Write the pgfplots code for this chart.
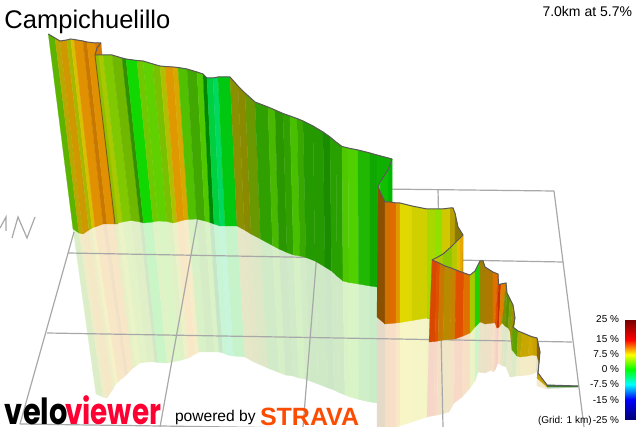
\documentclass[border=0pt]{standalone}
\usepackage{fontspec}
\setmainfont{Liberation Sans}
\newfontfamily\logofont{Poppins}
\usepackage{pgfplots}
\usepackage{pgfplotstable}
\pgfplotsset{compat=1.18}
\definecolor{gridc}{HTML}{A8A8A8}
\definecolor{edgec}{HTML}{5A5A5A}
% columns: wall top (xt,yt), wall foot (xb,yb), reflection foot (xr,yr), colour of the stripe to the right
\pgfplotstableread{
xt yt xb yb xr yr c
48.3 34 73 229 96 394 5CB400
55 38 79 233 103 397 B8A800
60 41 83 234 107 398 D09800
66.7 40 89 230 113 389 A8B800
70.7 39 92 228 115 385 D8C000
74 39.5 95 227 118 382 E09000
83 41 103 224 125 376 C87800
87 42 107 224 128 373 E09000
95 43 114 224 133 368 D87800
101 43 118 224 136 366 D87800
}\TabA
\pgfplotstableread{
xt yt xb yb xr yr c
95 55 115 224 133 368 90C000
98.5 55 118 223 136 366 A8C800
103 55 122.5 222 140 363 80C800
112 55 131 220.5 147.5 362 70B800
122 58 140 222 155 362 309000
126 59 143.5 223 158 362.5 10D800
137 60.5 153 222 167 363 70C800
143 61 158 221 172 362 60D000
153 64 167 221.5 180 360.5 78C000
160 66 173 223 185 359 B0C000
165 66.5 177 222 188.5 358 E09800
173 67 184 220 195 354 D8A800
178 67.5 188.5 219.5 199 352 50C000
187 69 196.5 219 206.5 352 40A800
197 72 205 221 214.5 352 50C800
203 74 210 222.5 219 352 008800
207 78 214 224 223 353 00D040
213 78 220 226 229 355.5 00D860
218 77 225 226 233.5 356 00C810
230 77 237 226 245 357 8A9000
238 86 244.5 230 252 361 8A8A00
245 93 251 234 258.5 364 6A9800
255 102 260.5 239 267.5 368 30A000
268 107 272.5 245.5 279 372.5 48B800
275 110 279 249 285.5 375 2A9600
283 113.5 287 252.5 293 376 30A000
290 116 293.5 255 299 378 48C000
297 118.5 300 256 305 379 38A800
303 121 306 257.5 310 381 259A00
313 126 315 261 318 384 259A00
323 132 325 267 328 388 1A8C00
330 137 331.5 271 334 390 28A000
336 142 337 276 339 392.5 28A000
342 146.5 343 281 345 395 50C800
348 148 349 282.5 350 397 50D000
358 150 358.5 284 359 399.5 20B800
370 153 370 286 370 402 10A800
377 155 377 287 377 403 10B000
392 159 392 289 392 405 10B000
}\TabB
\pgfplotstableread{
xt yt xb yb xr yr c
392 159 392 250 392 250 00B800
388 170 388 250 388 250 10C000
380 182 380 250 380 250 30E000
378 187 378 250 378 250 30E000
}\TabH
\pgfplotstableread{
xt yt xb yb xr yr c
378 187 377 317 377 427 8A5000
385 202 385 324 385 427 D07000
390 202 390 323.5 390 427 E06C00
396 203 396 323 396 427 E09800
400 203 400 322.5 400 426 E0D800
412 206 412 320.5 412 422 D0D000
427 209 427 318 427 417 A8D800
435 209 435 318 435 318 90E000
442 209 442 318 442 318 D0C800
450 208 450 318 450 318 B8A000
453 208 453 318 453 318 B8A000
455 213 455 318 455 318 8A7A00
458 227 458 318 458 318 8A7A00
463 235 463 318 463 318 8A7A00
}\TabC
\pgfplotstableread{
xt yt xb yb xr yr c
432 260 432 300 432 300 E0B800
437 257.5 437 300 437 300 B0C800
443 254 443 300 443 300 90C800
452 246 452 300 452 300 B8C800
457 241 457 300 457 300 E0C000
460 238 460 300 460 300 E8A800
463 235 462 300 462 300 E8A800
}\TabE
\pgfplotstableread{
xt yt xb yb xr yr c
432 260 429 342 427 417 D84800
437 262 435 341.5 434 415.5 E05000
440 263.5 438 341 437 415 C87800
445 266 443 340 442 414 B88A00
451 268 450 339.5 449 412 C88000
456 270 455 339 454 403 E05000
464 273 463 336 462 397 E07000
470 275 470 333 470 388 A8C800
475 271 475 327 475 381 20D000
480 261 480 322 478 372 A08000
483 261 483 323 481 372.5 A08000
485 267 485 324 485 373 B07800
493 272 493 323 492 370 E07000
498 274 495 323 493 372 E05000
498.5 284.5 497 328 495 370 C83000
501 284 499 327 498 363 E08000
506 283 502 323 501 365 7A9000
507 293 505 326 503 366 609000
510 299 508 328 506 367 80A000
513 305 510 331 508 372 A09000
515 318 511.5 345 510 377 6AA000
513 327 512 350 511 377 60A000
518 331 517 356 516 376 B0A800
523 333 520 357 520 376 C8A800
530 336 528 356 528 375 D0A800
533 337 533 355 533 374 C8A000
537 338 537 356 536 372 8A6000
540 352 539 363 538 372 6A7A00
538 373 537 378 537 386 C8A000
547 385 547 387 547 389 3A7A30
578 386 578 387 578 387 3A7A30
}\TabD
\newcount\stripeno
\newcommand\getcell[3]{\pgfplotstablegetelem{#1}{#2}\of{#3}}
\newcommand\faces[2]{% table, 0 = wall, 1 = reflection
  \pgfplotstablegetrowsof{#1}\pgfmathtruncatemacro\lastrow{\pgfplotsretval-2}%
  \pgfplotsforeachungrouped \i in {0,...,\lastrow}{%
    \pgfmathtruncatemacro\j{\i+1}%
    \global\advance\stripeno by 1
    \getcell{\i}{c}{#1}%
    \edef\tmp{\noexpand\xglobal\noexpand\definecolor{cc\the\stripeno}{HTML}{\pgfplotsretval}}\tmp
    \getcell{\i}{xb}{#1}\let\xai\pgfplotsretval
    \getcell{\i}{yb}{#1}\let\yai\pgfplotsretval
    \getcell{\j}{xb}{#1}\let\xaj\pgfplotsretval
    \getcell{\j}{yb}{#1}\let\yaj\pgfplotsretval
    \ifnum#2=0
      \getcell{\i}{xt}{#1}\let\xci\pgfplotsretval
      \getcell{\i}{yt}{#1}\let\yci\pgfplotsretval
      \getcell{\j}{xt}{#1}\let\xcj\pgfplotsretval
      \getcell{\j}{yt}{#1}\let\ycj\pgfplotsretval
      \edef\col{cc\the\stripeno}%
    \else
      \getcell{\i}{xr}{#1}\let\xci\pgfplotsretval
      \getcell{\i}{yr}{#1}\let\yci\pgfplotsretval
      \getcell{\j}{xr}{#1}\let\xcj\pgfplotsretval
      \getcell{\j}{yr}{#1}\let\ycj\pgfplotsretval
      \edef\col{cc\the\stripeno!22!white}%
    \fi
    \edef\tmp{\noexpand\addplot[fill=\col,draw=\col,line width=0.25pt,forget plot] coordinates {(\xci,\yci)(\xcj,\ycj)(\xaj,\yaj)(\xai,\yai)(\xci,\yci)};}\tmp
  }%
}
\tikzset{tx/.style={inner sep=0pt,outer sep=0pt}}
\begin{document}
\begin{tikzpicture}
\path[use as bounding box] (0,0) rectangle (637pt,427pt);
\begin{axis}[
  width=637pt,height=427pt,scale only axis,
  xmin=0,xmax=637,ymin=0,ymax=427,y dir=reverse,
  axis lines=none,clip=true,
  colormap={vv}{rgb255(0pt)=(0,0,120); rgb255(10pt)=(0,0,255); rgb255(17.5pt)=(0,255,255); rgb255(25pt)=(0,255,0); rgb255(32.5pt)=(255,255,0); rgb255(40pt)=(255,0,0); rgb255(50pt)=(120,0,0)},
]
% reflections on the floor
\faces{\TabA}{1}
\faces{\TabB}{1}
\faces{\TabC}{1}
\faces{\TabD}{1}
% grid
\pgfplotsset{gl/.style={color=gridc,line width=1.2pt,forget plot}}
\addplot[gl] coordinates {(74,232)(20,424)};
\addplot[gl] coordinates {(380,189)(554,191)};
\addplot[gl] coordinates {(68,253)(563,262)};
\addplot[gl] coordinates {(47,333)(572,342)};
\addplot[gl] coordinates {(20,424)(300,428)};
\addplot[gl] coordinates {(554,191)(584,427)};
\addplot[gl] coordinates {(200,205)(160,427)};
\addplot[gl] coordinates {(318,240)(303,427)};
\addplot[gl] coordinates {(438,189)(443,427)};
% north mark
\addplot[gl] coordinates {(0,228)(6,217)(6,231)};
\addplot[gl] coordinates {(12,238)(18,217)(27,238)(35,217)};
% walls, back to front
\faces{\TabA}{0}
\addplot[edgec,line width=1pt,forget plot] table[x=xt,y=yt]{\TabA};
\faces{\TabB}{0}
\addplot[color={rgb,255:red,120;green,96;blue,16},line width=0.9pt,forget plot] coordinates {(95,55)(115,224)};
\addplot[edgec,line width=1pt,forget plot] coordinates {(95,55)(97,48)(101,43)};
\addplot[edgec,line width=1pt,forget plot] table[x=xt,y=yt]{\TabB};
\faces{\TabH}{0}
\addplot[edgec,line width=1pt,forget plot] table[x=xt,y=yt]{\TabH};
\faces{\TabC}{0}
\addplot[edgec,line width=1pt,forget plot] table[x=xt,y=yt]{\TabC};
\faces{\TabE}{0}
\addplot[edgec,line width=1pt,forget plot] table[x=xt,y=yt]{\TabE};
\faces{\TabD}{0}
\addplot[edgec,line width=1pt,forget plot] table[x=xt,y=yt]{\TabD};
% gradient scale
\addplot[patch,patch type=rectangle,shader=interp,colormap name=vv,point meta=explicit,point meta min=-25,point meta max=25,forget plot]
  coordinates {(625,320)[25] (635,320)[25] (635,419)[-25] (625,419)[-25]};
% texts
\node[tx,anchor=base west] at (axis cs:4.5,28.5) {\fontsize{25.5}{28}\selectfont Campichuelillo};
\node[tx,anchor=base east] at (axis cs:632,17) {\fontsize{14}{16}\selectfont 7.0km at 5.7\%};
\foreach \y/\t in {323/25 \%,343/15 \%,358/7.5 \%,373/0 \%,388/-7.5 \%,403/-15 \%,423/-25 \%}{
  \edef\tmp{\noexpand\node[tx,anchor=base east] at (axis cs:619,\y) {\noexpand\fontsize{10}{12}\noexpand\selectfont \t};}\tmp
}
\node[tx,anchor=base west] at (axis cs:538,423) {\fontsize{10}{12}\selectfont (Grid: 1 km)};
\node[tx,anchor=base west] at (axis cs:5,424) {\scalebox{.8}[1]{\fontsize{36}{38}\logofont\bfseries velo}};
\node[tx,anchor=base west] at (axis cs:65,424) {\scalebox{.775}[1]{\fontsize{36}{38}\logofont\bfseries\color[HTML]{FF0033}viewer}};
\node[tx,anchor=base west] at (axis cs:175,421) {\fontsize{15.6}{17}\selectfont powered by};
\node[tx,anchor=base west] at (axis cs:260,425) {\fontsize{25}{28}\selectfont\bfseries\color[HTML]{FC4C02}STRAVA};
\end{axis}
\end{tikzpicture}
\end{document}
